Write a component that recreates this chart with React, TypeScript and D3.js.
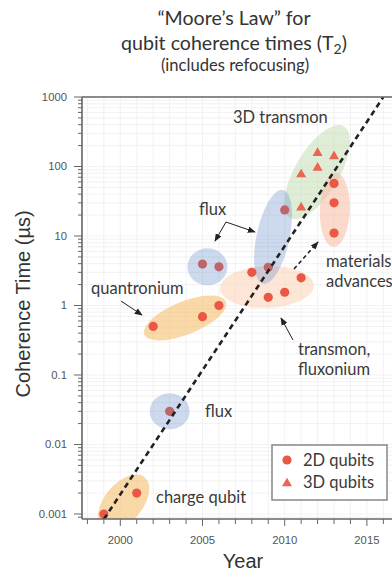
import React from "react";
import * as d3 from "d3";

// ---- data ----
const years2D = [1999, 2001, 2003, 2002, 2005, 2006, 2005, 2006, 2008, 2009, 2009, 2010, 2011, 2010, 2013, 2013, 2013];
const coherence2D = [0.001, 0.002, 0.03, 0.5, 0.69, 1.0, 3.95, 3.6, 3.0, 3.55, 1.31, 1.55, 2.5, 23.7, 57, 30, 11];
const years3D = [2012, 2013, 2012, 2011, 2011];
const coherence3D = [158, 142, 97, 78, 26];
const trendYears = [1999, 2016];
const trendValues = [0.00084, 1000];
const xTickYears = d3.range(1998, 2018);
const xLabelYears = [2000, 2005, 2010, 2015];
const yDecades = [0.001, 0.01, 0.1, 1, 10, 100, 1000];
const yTickLabels = ["0.001", "0.01", "0.1", "1", "10", "100", "1000"];
const legendLabels = ["2D qubits", "3D qubits"];

// groups (ellipse centres in data units)
const groupNames = ["charge", "fluxSmall", "quantronium", "flux05", "transmon", "fluxTall", "transmon3D", "materials"];
const groupYears = [2000.2, 2003, 2003.94, 2005.3, 2008.92, 2009.29, 2011.97, 2013.05];
const groupValues = [0.00146, 0.03, 0.66, 3.6, 1.85, 9.7, 83, 23.7];

const W = 392, H = 574;
const ML = 82, MT = 97, MB = 519;

const x = d3.scaleLinear().domain([1997.67, 2017]).range([ML, ML + 19.33 * 16.44]);
const y = d3.scaleLog().domain([Math.pow(10, -3.072), 1000]).range([MB, MT]);

const RED = "#ea5845";
const TRI = "#ea6650";
const SANS = "Lato, 'Open Sans', sans-serif";
const ARIAL = "'Liberation Sans', Arial, sans-serif";
const BLUE = "rgb(90,132,200)";

const ellStyle: Record<string, { rx: number; ry: number; rot: number; fill: string; op: number; top?: boolean }> = {
  charge: { rx: 33, ry: 19, rot: -50, fill: "rgb(247,190,105)", op: 0.58 },
  fluxSmall: { rx: 20, ry: 18, rot: 0, fill: BLUE, op: 0.3, top: true },
  quantronium: { rx: 44, ry: 16.5, rot: -22, fill: "rgb(247,190,105)", op: 0.58 },
  flux05: { rx: 20, ry: 18.5, rot: 0, fill: BLUE, op: 0.3, top: true },
  transmon: { rx: 47, ry: 21, rot: -2, fill: "rgb(252,212,185)", op: 0.58 },
  fluxTall: { rx: 16.5, ry: 48, rot: 12, fill: BLUE, op: 0.3, top: true },
  transmon3D: { rx: 53, ry: 22, rot: -59.5, fill: "rgb(196,220,180)", op: 0.55 },
  materials: { rx: 15, ry: 37, rot: 2, fill: "rgb(248,190,165)", op: 0.58 },
};

function triPath(cx: number, cy: number, s: number) {
  const h = s * 0.866;
  return `M${cx},${cy - h * 0.62} L${cx + s / 2},${cy + h * 0.38} L${cx - s / 2},${cy + h * 0.38} Z`;
}

export default function App() {
  const minorVals: number[] = [];
  for (let e = -4; e <= 3; e++) {
    for (let m = 1; m <= 9; m++) {
      const v = m * Math.pow(10, e);
      if (v >= y.domain()[0] && v <= 1000.0001) minorVals.push(v);
    }
  }
  const ellipses = groupNames.map((g, i) => ({ g, cx: x(groupYears[i]), cy: y(groupValues[i]), ...ellStyle[g] }));
  const renderEll = (e: any) => (
    <ellipse key={e.g} cx={0} cy={0} rx={e.rx} ry={e.ry} fill={e.fill} fillOpacity={e.op}
      transform={`translate(${e.cx},${e.cy}) rotate(${e.rot})`} />
  );
  const line = d3.line<number>().x((_, i) => x(trendYears[i])).y((v) => y(v));
  const axisColor = "#666";
  const textColor = "#3a3a3a";

  return (
    <svg width={W} height={H} style={{ position: "absolute", left: 0, top: 0, background: "#fff" }}>
      <defs>
        <marker id="ah" viewBox="0 0 10 8" refX="9" refY="4" markerWidth="8" markerHeight="6.4" markerUnits="userSpaceOnUse" orient="auto">
          <path d="M0,0 L10,4 L0,8 Z" fill="#222" />
        </marker>
        <clipPath id="plot"><rect x={ML} y={MT} width={W - ML} height={MB - MT} /></clipPath>
      </defs>

      {/* title */}
      <g fill="#333" fontFamily={SANS} textAnchor="middle">
        <text x={234} y={25} fontSize={19.6}>“Moore’s Law” for</text>
        <text x={234} y={50} fontSize={19.6}>qubit coherence times (T<tspan fontSize={14} dy={4}>2</tspan><tspan dy={-4}>)</tspan></text>
        <text x={235} y={71} fontSize={16.6}>(includes refocusing)</text>
      </g>

      {/* grid */}
      <g stroke="#ececec" strokeWidth={0.7}>
        {xTickYears.map((yr) => <line key={"gx" + yr} x1={x(yr)} x2={x(yr)} y1={MT} y2={MB} />)}
        {minorVals.map((v, i) => <line key={"gy" + i} x1={ML} x2={W} y1={y(v)} y2={y(v)} />)}
      </g>

      <g clipPath="url(#plot)">
        {ellipses.filter((e) => !e.top).map(renderEll)}
        {years2D.map((yr, i) => <circle key={"c" + i} cx={x(yr)} cy={y(coherence2D[i])} r={4.6} fill={RED} />)}
        {years3D.map((yr, i) => <path key={"t" + i} d={triPath(x(yr), y(coherence3D[i]), 10)} fill={TRI} />)}
        {ellipses.filter((e) => e.top).map(renderEll)}
        <path d={line(trendValues) || ""} fill="none" stroke="#222" strokeWidth={2.6} strokeDasharray="5.5,4" />
      </g>

      {/* axes */}
      <g stroke={axisColor} fill="none">
        <line x1={ML} x2={W} y1={MT} y2={MT} strokeWidth={1.4} />
        <line x1={ML} x2={ML} y1={MT} y2={MB} strokeWidth={1.6} />
        <line x1={ML} x2={W} y1={MB} y2={MB} strokeWidth={1.6} />
        {minorVals.map((v, i) => {
          const major = yDecades.some((d) => Math.abs(d - v) / d < 1e-6);
          return <line key={"yt" + i} x1={ML - (major ? 8 : 4)} x2={ML} y1={y(v)} y2={y(v)} strokeWidth={1} />;
        })}
        {xTickYears.map((yr) => (
          <line key={"xt" + yr} x1={x(yr)} x2={x(yr)} y1={MB} y2={MB + (yr % 5 === 0 ? 7 : 5)} strokeWidth={1} />
        ))}
      </g>
      <g fill="#555" fontFamily={ARIAL} fontSize={11.3}>
        {yDecades.map((v, i) => (
          <text key={"yl" + i} x={67} y={y(v)} dy="0.35em" textAnchor="end">{yTickLabels[i]}</text>
        ))}
        {xLabelYears.map((yr) => (
          <text key={"xl" + yr} x={x(yr)} y={544} textAnchor="middle">{yr}</text>
        ))}
      </g>
      <text x={243} y={568} textAnchor="middle" fontFamily={ARIAL} fontSize={20} fill="#333">Year</text>
      <text transform="translate(30,304) rotate(-90)" textAnchor="middle" fontFamily={ARIAL} fontSize={20} fill="#333">Coherence Time (µs)</text>

      {/* annotations */}
      <g fill={textColor} fontFamily={SANS} fontSize={16.5}>
        <text x={233} y={123}>3D transmon</text>
        <text x={199} y={215}>flux</text>
        <text x={91} y={294}>quantronium</text>
        <text x={326} y={267}>materials</text>
        <text x={326} y={287}>advances</text>
        <text x={298} y={355}>transmon,</text>
        <text x={298} y={375}>fluxonium</text>
        <text x={205} y={417}>flux</text>
        <text x={156} y={503}>charge qubit</text>
      </g>
      <g stroke="#222" strokeWidth={1} fill="none">
        <line x1={226} y1={222} x2={215} y2={241} markerEnd="url(#ah)" />
        <line x1={226} y1={222} x2={255} y2={232} markerEnd="url(#ah)" />
        <line x1={121} y1={301} x2={142} y2={315} markerEnd="url(#ah)" />
        <line x1={293} y1={340} x2={281} y2={318} markerEnd="url(#ah)" />
        <line x1={294} y1={269} x2={318} y2={242} strokeWidth={1.6} strokeDasharray="4,3" markerEnd="url(#ah)" />
      </g>

      {/* legend */}
      <rect x={272} y={445} width={115} height={55} fill="#fff" stroke="#888" strokeWidth={1.5} />
      <circle cx={287} cy={460} r={4.6} fill={RED} />
      <path d={triPath(287, 483, 10)} fill={TRI} />
      <g fill={textColor} fontFamily={SANS} fontSize={16.5}>
        <text x={303} y={466}>{legendLabels[0]}</text>
        <text x={303} y={488}>{legendLabels[1]}</text>
      </g>
    </svg>
  );
}
